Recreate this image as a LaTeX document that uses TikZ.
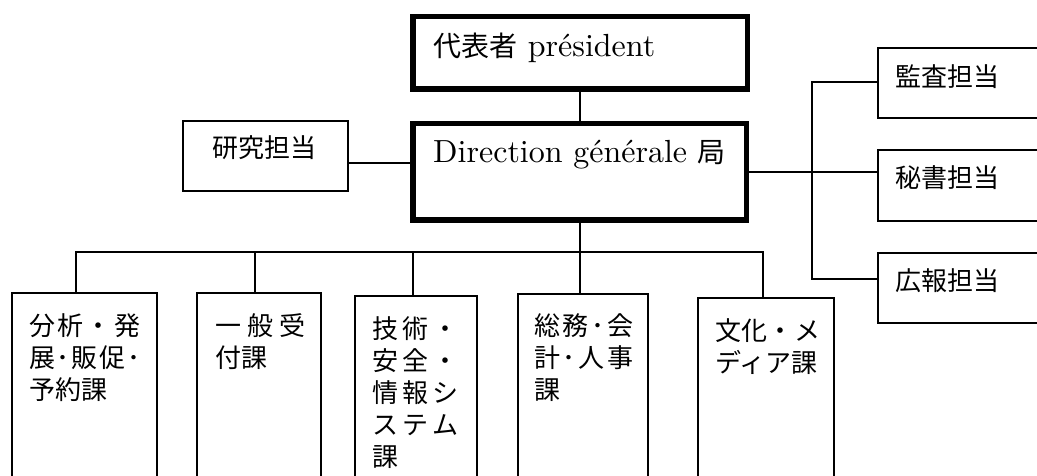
\documentclass[tikz,border=0pt]{standalone}
\usepackage{fontspec}
\newfontfamily\cjk{Noto Sans CJK JP}
\newfontfamily\lmten{lmroman10-regular}[Extension=.otf]
\usetikzlibrary{calc}
\newcommand\cjkm{\cjk\fontsize{26}{32}\selectfont}
\newcommand\cjkl{\cjk\fontsize{28}{34}\selectfont}
\newcommand\latl{\lmten\fontsize{32}{38}\selectfont}
\newcommand\jline[2]{\makebox[#1][s]{#2}}
\tikzset{
  thinbox/.style={draw, line width=1.6pt, inner sep=0pt},
  thickbox/.style={draw, line width=5.5pt, inner sep=0pt},
  conn/.style={line width=1.6pt},
  lbl/.style={inner sep=0pt, align=left, anchor=north west, font=\cjkm},
  wlbl/.style={inner sep=0pt, anchor=west},
  blbl/.style={inner sep=0pt, anchor=base west},
}
\begin{document}
\begin{tikzpicture}[x=1pt,y=-1pt]
\useasboundingbox (0,0) rectangle (1037,476);
\clip (0,0) rectangle (1037,476);
% top boxes
\node[thickbox, minimum width=334.5pt, minimum height=72.5pt] (pres) at (580,53) {};
\node[thickbox, minimum width=333.5pt, minimum height=96.5pt] (dir) at (579.5,172) {};
\node[thinbox, minimum width=165.4pt, minimum height=70.4pt] (ken) at (265.5,156) {};
% right boxes
\node[thinbox, minimum width=221.4pt, minimum height=70.4pt] (kan) at (988.5,83) {};
\node[thinbox, minimum width=221.4pt, minimum height=71.4pt] (hi) at (988.5,185.5) {};
\node[thinbox, minimum width=221.4pt, minimum height=70.4pt] (ko) at (988.5,288) {};
% bottom boxes
\node[thinbox, minimum width=145.4pt, minimum height=226.4pt] (b1) at (84.5,406) {};
\node[thinbox, minimum width=124.4pt, minimum height=226.4pt] (b2) at (259,406) {};
\node[thinbox, minimum width=122.4pt, minimum height=223.4pt] (b3) at (416,407.5) {};
\node[thinbox, minimum width=130.4pt, minimum height=225.4pt] (b4) at (583,406.5) {};
\node[thinbox, minimum width=136.4pt, minimum height=221.4pt] (b5) at (766,408.5) {};
% texts
\node[blbl, font=\latl] (tpres) at (433,57) {{\cjkl 代表者} président};
\node[blbl, font=\latl] (tdir) at (433,163) {Direction générale {\cjkl 局}};
\node[inner sep=0pt, font=\cjkm] (tken) at (264.5,148) {研究担当};
\node[wlbl, font=\cjkm] (tkan) at (895,77) {監査担当};
\node[wlbl, font=\cjkm] (thi) at (895,178) {秘書担当};
\node[wlbl, font=\cjkm] (tko) at (895,281) {広報担当};
\node[lbl] (tb1) at (29,313) {\jline{111pt}{分\hfill 析\hfill ・\hfill 発}\\\jline{111pt}{展\hfill ･\hfill 販\hfill 促\hfill ･}\\予約課};
\node[lbl] (tb2) at (215,313) {\jline{90pt}{一\hfill 般\hfill 受}\\付課};
\node[lbl] (tb3) at (372,316) {\jline{86pt}{技\hfill 術\hfill ・}\\\jline{86pt}{安\hfill 全\hfill ・}\\\jline{86pt}{情\hfill 報\hfill シ}\\\jline{86pt}{ス\hfill テ\hfill ム}\\課};
\node[lbl] (tb4) at (534,313) {\jline{99pt}{総\hfill 務\hfill ･\hfill 会}\\\jline{99pt}{計\hfill ･\hfill 人\hfill 事}\\課};
\node[lbl] (tb5) at (715,318) {\jline{105pt}{文\hfill 化\hfill ・\hfill メ}\\ディア課};
% connectors
\coordinate (kc) at (380,163);
\coordinate (ka) at (812,82);
\coordinate (kb) at (812,279);
\coordinate (bus) at (0,252);
\coordinate (t1) at ($(b1.north)+(-8.5,0)$);
\coordinate (t2) at ($(b2.north)+(-4,0)$);
\coordinate (t3) at ($(b3.north)+(-3,0)$);
\coordinate (t4) at ($(b4.north)+(-3,0)$);
\coordinate (t5) at ($(b5.north)+(-3,0)$);
\draw[conn] (pres.south) -- (pres.south |- dir.north);
\draw[conn] (ken.east |- kc) -- (dir.west |- kc);
\draw[conn] (dir.east) -- (hi.west |- dir.east);
\draw[conn] (kan.west |- ka) -- (ka) -- (kb) -- (ko.west |- kb);
\draw[conn] (t1) -- (t1 |- bus) -- (t5 |- bus) -- (t5);
\draw[conn] (t2) -- (t2 |- bus);
\draw[conn] (t3) -- (t3 |- bus);
\draw[conn] (dir.south -| t4) -- (t4);
\end{tikzpicture}
\end{document}
